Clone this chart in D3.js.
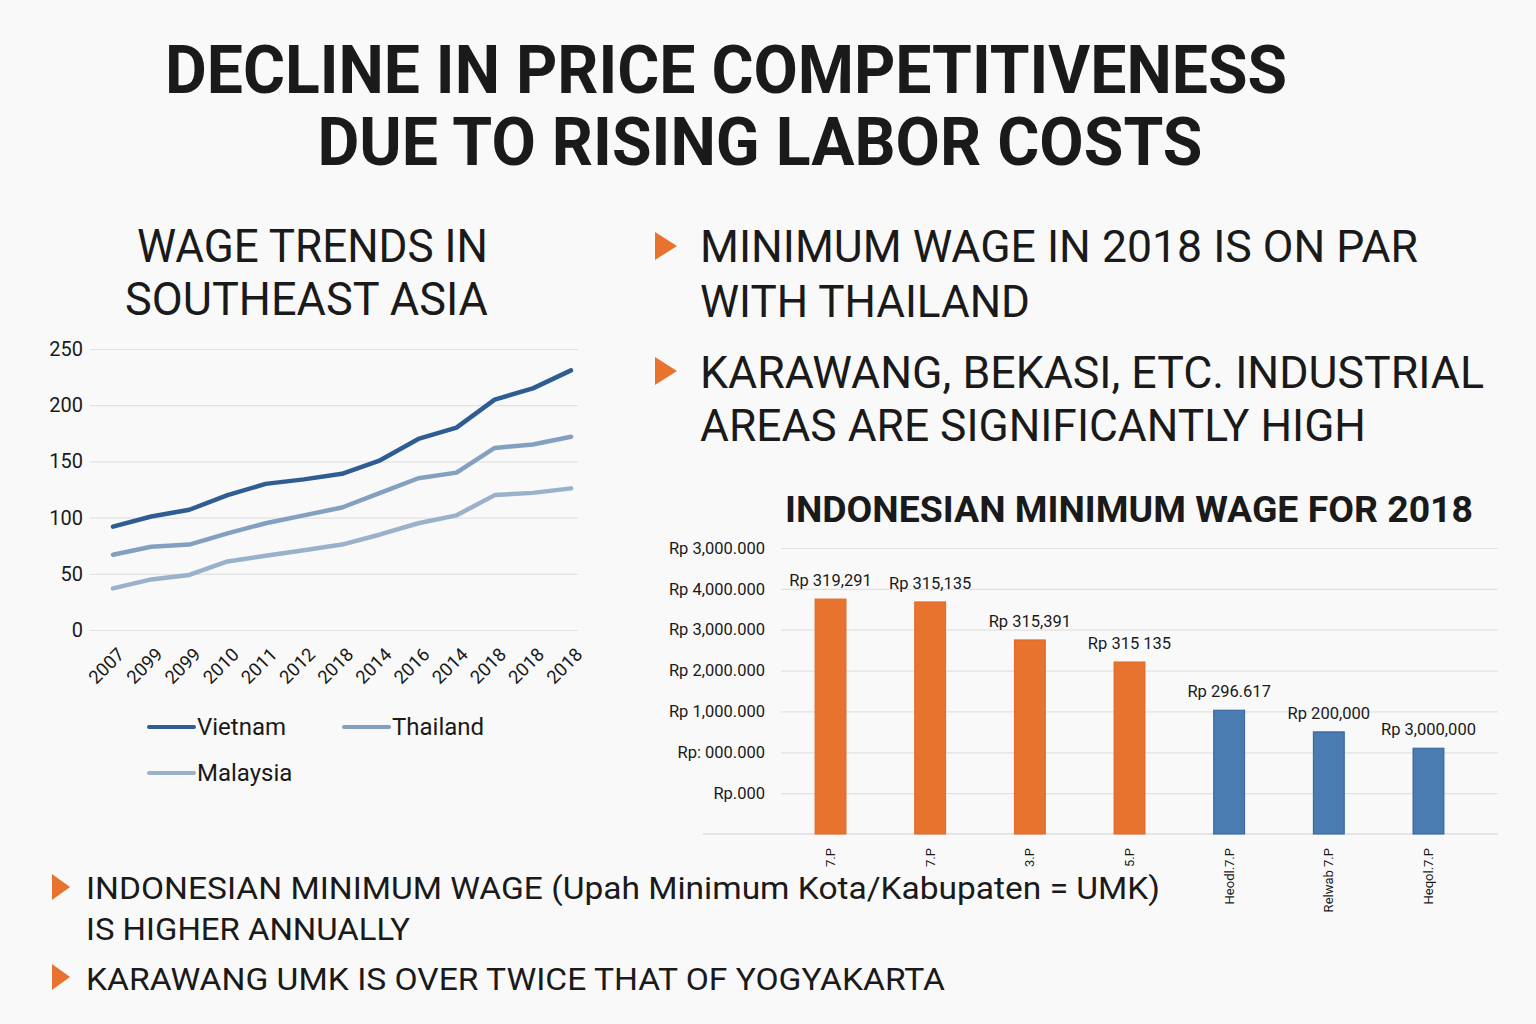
<!DOCTYPE html>
<html>
<head>
<meta charset="utf-8">
<title>Decline in price competitiveness</title>
<script src="https://cdn.jsdelivr.net/npm/d3@7"></script>
<style>
  html, body { margin: 0; padding: 0; background: #f9f9f9; }
  svg { display: block; font-family: Roboto, "Noto Sans", sans-serif; }
  text { fill: #1a1a1a; }
</style>
</head>
<body>
<svg id="chart" width="1536" height="1024"></svg>
<script>
// ---- data: wage trends in southeast asia (line chart)
var yearLabels = ["2007", "2099", "2099", "2010", "2011", "2012", "2018",
                  "2014", "2016", "2014", "2018", "2018", "2018"];
var vietnam  = [92, 101, 107, 120, 130, 134, 139, 151, 170, 180, 205, 215, 231];
var thailand = [67, 74, 76, 86, 95, 102, 109, 122, 135, 140, 162, 165, 172];
var malaysia = [37, 45, 49, 61, 66, 71, 76, 85, 95, 102, 120, 122, 126];
var seriesNames = ["Vietnam", "Thailand", "Malaysia"];
var wageTicks = [0, 50, 100, 150, 200, 250];

// ---- data: indonesian minimum wage 2018 (bar chart)
var regionLabels = ["7.P", "7.P", "3.P", "5.P", "Heodl.7.P", "Relwab 7.P", "Heqol.7.P"];
var regionGroup  = ["high", "high", "high", "high", "low", "low", "low"];
var barValues    = [5.75, 5.68, 4.75, 4.21, 3.03, 2.5, 2.1];
var barLabels    = ["Rp 319,291", "Rp 315,135", "Rp 315,391", "Rp 315 135",
                    "Rp 296.617", "Rp 200,000", "Rp 3,000,000"];
var rpTickLabels = ["", "Rp.000", "Rp: 000.000", "Rp 1,000.000", "Rp 2,000.000",
                    "Rp 3,000.000", "Rp 4,000.000", "Rp 3,000.000"];

var svg = d3.select("#chart");
var orange = "#e8732f";

// texts, stretched to the widths seen in the picture
function label(x, y, str, size, weight, len, anchor){
	var t = svg.append("text")
		.attr("x", x).attr("y", y)
		.attr("font-size", size)
		.attr("font-weight", weight || 400)
		.attr("text-anchor", anchor || "start")
		.text(str);
	if (len) t.attr("textLength", len).attr("lengthAdjust", "spacingAndGlyphs");
	return t;
}
function bullet(x, y, w, h){
	svg.append("path")
		.attr("d", "M" + x + "," + y + "L" + (x + w) + "," + (y + h / 2) + "L" + x + "," + (y + h) + "Z")
		.attr("fill", orange);
}

label(726, 93, "DECLINE IN PRICE COMPETITIVENESS", 66, 700, 1122, "middle");
label(760, 165, "DUE TO RISING LABOR COSTS", 66, 700, 885, "middle");

label(137, 262, "WAGE TRENDS IN", 46, 400, 351);
label(125, 315, "SOUTHEAST ASIA", 46, 400, 363);

bullet(655, 232, 22, 28);
label(700, 262, "MINIMUM WAGE IN 2018 IS ON PAR", 45, 400, 718);
label(700, 317, "WITH THAILAND", 45, 400, 330);
bullet(655, 357, 22, 28);
label(700, 388, "KARAWANG, BEKASI, ETC. INDUSTRIAL", 45, 400, 784);
label(700, 441, "AREAS ARE SIGNIFICANTLY HIGH", 45, 400, 666);

label(785, 522, "INDONESIAN MINIMUM WAGE FOR 2018", 36, 700, 688);

bullet(52, 874, 18, 26);
label(86, 899, "INDONESIAN MINIMUM WAGE (Upah Minimum Kota/Kabupaten = UMK)", 32, 400, 1074);
label(86, 940, "IS HIGHER ANNUALLY", 32, 400, 324);
bullet(52, 964, 18, 26);
label(86, 990, "KARAWANG UMK IS OVER TWICE THAT OF YOGYAKARTA", 32, 400, 859);

// ---- line chart
var lx = d3.scalePoint().domain(d3.range(yearLabels.length)).range([113, 571]);
var ly = d3.scaleLinear().domain([0, 250]).range([630, 349]);

var lineG = svg.append("g");
var yAxis = lineG.append("g")
	.attr("transform", "translate(90,0)")
	.call(d3.axisLeft(ly).tickValues(wageTicks).tickSize(-488).tickPadding(7));
yAxis.select(".domain").remove();
yAxis.selectAll("line").attr("stroke", "#e2e2e2").attr("stroke-width", 1.2);
yAxis.selectAll("text").attr("font-size", 20).attr("fill", "#1a1a1a")
	.attr("font-family", "Roboto, sans-serif");

lineG.selectAll("text.year")
	.data(yearLabels)
	.join("text")
	.attr("class", "year")
	.attr("transform", function(d, i){ return "translate(" + (lx(i) + 8) + ",651) rotate(-45)"; })
	.attr("text-anchor", "end")
	.attr("dy", "0.35em")
	.attr("font-size", 18.5)
	.text(function(d){ return d; });

var series = [
	{name: seriesNames[0], values: vietnam,  color: "#2f5d93"},
	{name: seriesNames[1], values: thailand, color: "#84a0c0"},
	{name: seriesNames[2], values: malaysia, color: "#9ab1ca"}
];
var line = d3.line()
	.x(function(d, i){ return lx(i); })
	.y(function(d){ return ly(d); });

lineG.selectAll("path.series")
	.data(series.slice().reverse())
	.join("path")
	.attr("class", "series")
	.attr("d", function(d){ return line(d.values); })
	.attr("fill", "none")
	.attr("stroke", function(d){ return d.color; })
	.attr("stroke-width", 4.5)
	.attr("stroke-linejoin", "round")
	.attr("stroke-linecap", "round");

// legend
var legendPos = [[149, 727], [344, 727], [149, 773]];
var legend = lineG.selectAll("g.legend")
	.data(series)
	.join("g")
	.attr("class", "legend")
	.attr("transform", function(d, i){ return "translate(" + legendPos[i][0] + "," + legendPos[i][1] + ")"; });
legend.append("line")
	.attr("x1", 0).attr("x2", 45)
	.attr("stroke", function(d){ return d.color; })
	.attr("stroke-width", 4)
	.attr("stroke-linecap", "round");
legend.append("text")
	.attr("x", 48).attr("dy", "0.35em")
	.attr("font-size", 24)
	.text(function(d){ return d.name; });

// ---- bar chart
var bx = d3.scaleBand().domain(d3.range(barValues.length)).range([781, 1478])
	.paddingInner(0.69).paddingOuter(0.342);
var by = d3.scaleLinear().domain([0, 7]).range([834, 548]);

var barG = svg.append("g");
var bAxis = barG.append("g")
	.attr("transform", "translate(781,0)")
	.call(d3.axisLeft(by).tickValues(d3.range(1, 8)).tickSize(-717).tickPadding(16)
		.tickFormat(function(d){ return rpTickLabels[d]; }));
bAxis.select(".domain").remove();
bAxis.selectAll("line").attr("stroke", "#e2e2e2").attr("stroke-width", 1.2);
bAxis.selectAll("text").attr("font-size", 16.5).attr("fill", "#1a1a1a")
	.attr("font-family", "Roboto, sans-serif");

barG.append("line")
	.attr("x1", 703).attr("x2", 1498)
	.attr("y1", by(0)).attr("y2", by(0))
	.attr("stroke", "#dcdcdc").attr("stroke-width", 1.5);

barG.selectAll("rect.bar")
	.data(barValues)
	.join("rect")
	.attr("class", "bar")
	.attr("x", function(d, i){ return bx(i); })
	.attr("width", bx.bandwidth())
	.attr("y", function(d){ return by(d); })
	.attr("height", function(d){ return by(0) - by(d); })
	.attr("fill", function(d, i){ return regionGroup[i] === "high" ? orange : "#4a7bb1"; })
	.attr("stroke", function(d, i){ return regionGroup[i] === "high" ? "#de6724" : "#2f62a0"; })
	.attr("stroke-width", 1);

barG.selectAll("text.value")
	.data(barValues)
	.join("text")
	.attr("class", "value")
	.attr("x", function(d, i){ return bx(i) + bx.bandwidth() / 2; })
	.attr("y", function(d){ return by(d) - 13; })
	.attr("text-anchor", "middle")
	.attr("font-size", 16.5)
	.text(function(d, i){ return barLabels[i]; });

barG.selectAll("text.region")
	.data(regionLabels)
	.join("text")
	.attr("class", "region")
	.attr("transform", function(d, i){ return "translate(" + (bx(i) + bx.bandwidth() / 2) + ",848) rotate(-90)"; })
	.attr("text-anchor", "end")
	.attr("dy", "0.35em")
	.attr("font-size", 13)
	.text(function(d){ return d; });
</script>
</body>
</html>
